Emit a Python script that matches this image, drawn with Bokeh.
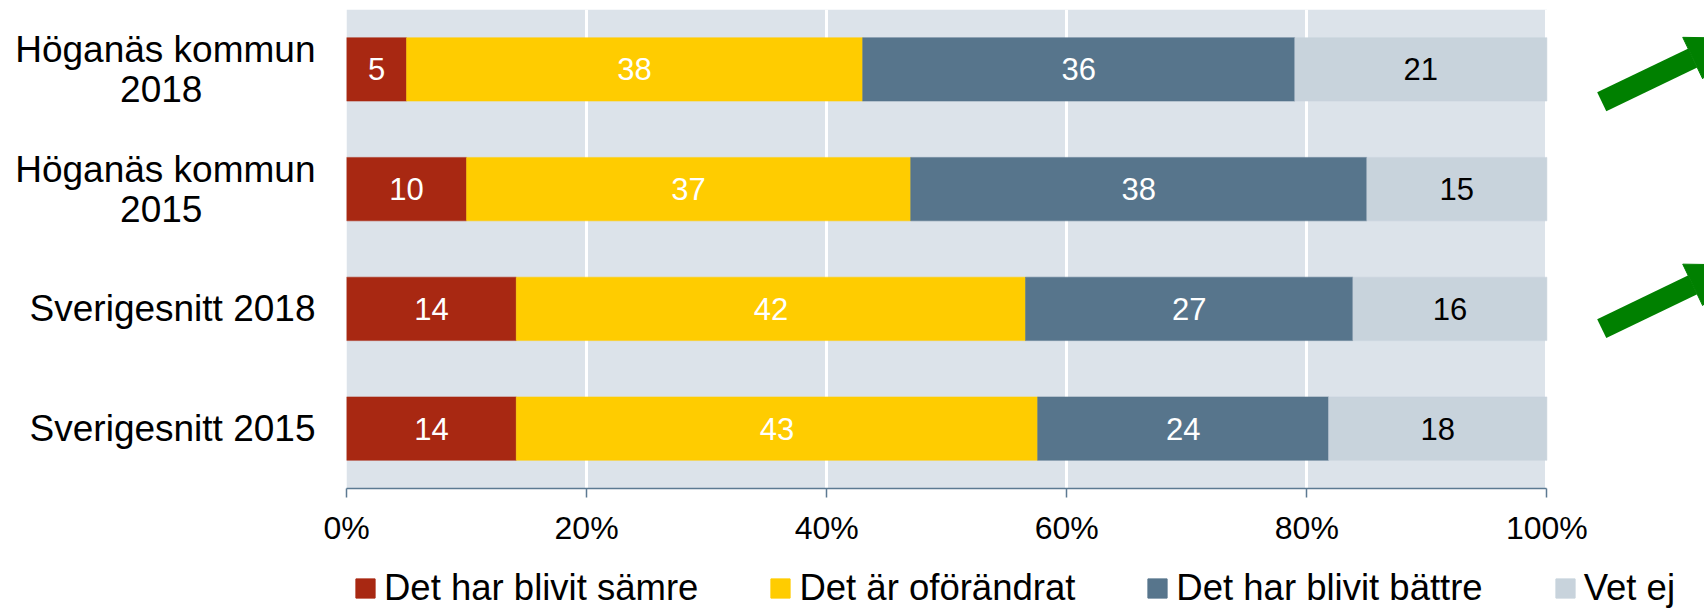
import numpy as np
from bokeh.plotting import figure
from bokeh.layouts import column
from bokeh.models import (ColumnDataSource, FactorRange, Range1d, FixedTicker,
                          NumeralTickFormatter, BoxAnnotation, Arrow, NormalHead,
                          Legend, LegendItem)
from bokeh.core.properties import value
from bokeh.embed import file_html
from bokeh.resources import INLINE

NB = "\u00a0" * 11  # keeps the second line of a two-line label centred

# ---------------- data ----------------
categories = ["Höganäs kommun\n2018" + NB, "Höganäs kommun\n2015" + NB,
              "Sverigesnitt 2018", "Sverigesnitt 2015"]
series = ["Det har blivit sämre", "Det är oförändrat",
          "Det har blivit bättre", "Vet ej"]
samre = [5, 10, 14, 14]
oforandrat = [38, 37, 42, 43]
battre = [36, 38, 27, 24]
vet_ej = [21, 15, 16, 18]
x_ticks = [0, 0.2, 0.4, 0.6, 0.8, 1.0]

# decorative trend arrows (x in share units, y in category units from bottom)
arrow_x0 = [1.0457, 1.0457]
arrow_y0 = [3.229, 1.335]
arrow_x1 = [1.1560, 1.1560]
arrow_y1 = [3.761, 1.867]

colors = ["#A82812", "#FFCC00", "#57758C", "#C8D3DC"]
label_colors = ["white", "white", "white", "black"]
FONT = "Liberation Sans"

vals = np.array([samre, oforandrat, battre, vet_ej], dtype=float)
shares = vals / vals.sum(axis=0)
rights = np.cumsum(shares, axis=0)
lefts = rights - shares

p = figure(width=1704, height=548, output_backend="svg", toolbar_location=None,
           y_range=FactorRange(factors=categories[::-1], range_padding=0),
           x_range=Range1d(0, 1.1313),
           min_border_left=346, min_border_right=0, min_border_top=9,
           min_border_bottom=0)
p.outline_line_color = None
p.background_fill_color = "white"
p.border_fill_color = "white"

bg = BoxAnnotation(left=0, right=1, fill_color="#DCE3EA", fill_alpha=1,
                   line_color=None, level="image")
p.add_layout(bg)

for i, name in enumerate(series):
    src = ColumnDataSource(dict(y=categories, left=lefts[i], right=rights[i],
                                mid=(lefts[i] + rights[i]) / 2,
                                txt=[str(int(v)) for v in vals[i]]))
    p.hbar(y="y", left="left", right="right", height=0.53, source=src,
           fill_color=colors[i], line_color=colors[i], line_width=0.5)
    p.text(x="mid", y="y", text="txt", source=src, text_align="center",
           text_baseline="middle", text_font=value(FONT),
           text_font_size="31px", text_color=label_colors[i])

for x0, y0, x1, y1 in zip(arrow_x0, arrow_y0, arrow_x1, arrow_y1):
    p.add_layout(Arrow(x_start=x0, y_start=y0, x_end=x1, y_end=y1,
                       line_color="#008000", line_width=21,
                       end=NormalHead(size=46, fill_color="#008000",
                                      line_color="#008000", line_width=1)))

# x axis
xa = p.xaxis[0]
xa.ticker = FixedTicker(ticks=x_ticks)
xa.formatter = NumeralTickFormatter(format="0%")
xa.bounds = (0, 1)
xa.axis_line_color = "#5C7A92"
xa.axis_line_width = 1.5
xa.major_tick_line_color = "#5C7A92"
xa.major_tick_line_width = 1.5
xa.major_tick_out = 9
xa.major_tick_in = 0
xa.minor_tick_line_color = None
xa.major_label_text_font = FONT
xa.major_label_text_font_size = "32px"
xa.major_label_text_color = "black"
xa.major_label_standoff = 12

# y axis
ya = p.yaxis[0]
ya.axis_line_color = None
ya.major_tick_line_color = None
ya.minor_tick_line_color = None
ya.major_label_text_font = FONT
ya.major_label_text_font_size = "37px"
ya.major_label_text_color = "black"
ya.major_label_text_line_height = 0.98
ya.major_label_standoff = 25

p.xgrid.ticker = FixedTicker(ticks=x_ticks)
p.xgrid.grid_line_color = "white"
p.xgrid.grid_line_width = 3
p.xgrid.bounds = (0, 1)
p.ygrid.grid_line_color = None

# ---------------- legend strip ----------------
lg = figure(width=1704, height=61, output_backend="svg", toolbar_location=None,
            x_range=Range1d(0, 1), y_range=Range1d(0, 1),
            x_axis_location=None, y_axis_location=None,
            min_border_left=0, min_border_right=0, min_border_top=0,
            min_border_bottom=0)
lg.outline_line_color = None
lg.xgrid.visible = False
lg.ygrid.visible = False
swatches = []
for c in colors:
    # one off-screen row so the legend swatch has a colour to draw
    swatches.append(lg.hbar(y=[-10], left=[0], right=[1], height=0.5,
                            fill_color=c, line_color=c))
legend = Legend(items=[LegendItem(label=s, renderers=[r]) for s, r in zip(series, swatches)],
                orientation="horizontal", location=(7, 0),
                glyph_width=24, glyph_height=24, label_standoff=7, spacing=70,
                padding=0, margin=0, border_line_color=None,
                background_fill_alpha=0,
                label_text_font=FONT, label_text_font_size="36.5px",
                label_text_color="black")
lg.add_layout(legend, "center")

layout = column(p, lg, spacing=0)
open("out.html", "w").write(file_html(layout, INLINE))
